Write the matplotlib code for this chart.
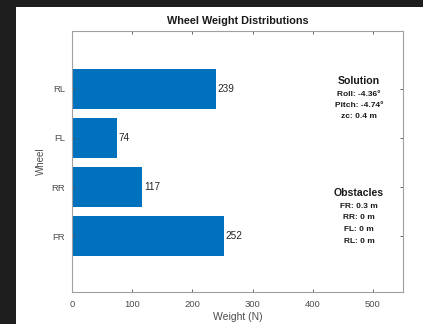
import matplotlib
matplotlib.use("Agg")
import matplotlib.pyplot as plt
from matplotlib.patches import Rectangle

wheels = ["FR", "RR", "FL", "RL"]
weights = [252, 117, 74, 239]
solution_lines = ["Roll: -4.36°", "Pitch: -4.74°", "zc: 0.4 m"]
obstacle_lines = ["FR: 0.3 m", "RR: 0 m", "FL: 0 m", "RL: 0 m"]
xticks = [0, 100, 200, 300, 400, 500]

plt.rcParams['font.family'] = ['Liberation Sans', 'DejaVu Sans']

W, H = 423, 324
fig = plt.figure(figsize=(W / 100, H / 100), dpi=100)
fig.patch.set_facecolor('#1e1e1e')
fig.patches.append(Rectangle((16 / W, 0), 1 - 16 / W, (H - 7) / H,
                             transform=fig.transFigure, facecolor='white',
                             edgecolor='none', zorder=-10))

ax = fig.add_axes([72 / W, 1 - 292 / H, (403 - 72) / W, (292 - 31) / H])
ax.set_zorder(1)
pos = list(range(1, len(wheels) + 1))
bars = ax.barh(pos, weights, height=0.8, color='#0072BD')
for p, v in zip(pos, weights):
    ax.text(v + 3, p, f"{v}", va='center', ha='left', fontsize=7.2, color='#262626')

ax.set_xlim(0, 550)
ax.set_ylim(-0.14, 5.18)
ax.set_yticks(pos)
ax.set_yticklabels(wheels)
ax.set_xticks(xticks)
ax.tick_params(axis='both', labelsize=6.8, colors='#4d4d4d', length=2.5, width=0.6,
               direction='in', top=True, right=True)
ax.tick_params(axis='x', pad=6)
ax.tick_params(axis='y', pad=5)
for s in ax.spines.values():
    s.set_color('#a0a0a0')
    s.set_linewidth(0.8)
ax.set_xlabel("Weight (N)", fontsize=7.5, color='#4d4d4d', labelpad=2)
ax.set_ylabel("Wheel", fontsize=7, color='#4d4d4d', labelpad=4)
ax.set_title("Wheel Weight Distributions", fontsize=7.8, fontweight='bold',
             color='#1a1a1a', pad=5)

cx = (359 - 72) / (403 - 72)
def ay(ypx):
    return (292 - ypx) / (292 - 31)

ax.text(cx, ay(81), "Solution", transform=ax.transAxes, ha='center', va='center',
        fontsize=7.6, fontweight='bold', color='#1a1a1a')
for i, t in enumerate(solution_lines):
    ax.text(cx, ay(94 + i * 11.5), t, transform=ax.transAxes, ha='center', va='center',
            fontsize=6, fontweight='bold', color='#1a1a1a')
ax.text(cx, ay(193), "Obstacles", transform=ax.transAxes, ha='center', va='center',
        fontsize=7.6, fontweight='bold', color='#1a1a1a')
for i, t in enumerate(obstacle_lines):
    ax.text(cx, ay(206 + i * 11.7), t, transform=ax.transAxes, ha='center', va='center',
            fontsize=6, fontweight='bold', color='#1a1a1a')

fig.savefig("out.png", dpi=100, facecolor=fig.get_facecolor())
